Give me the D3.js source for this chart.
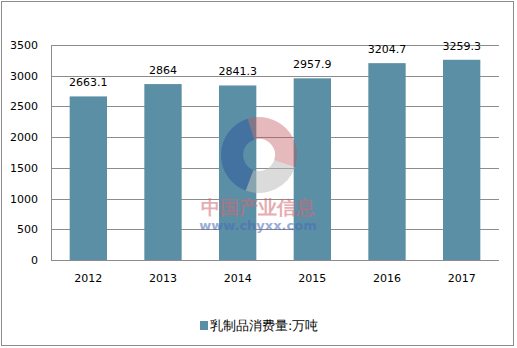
<!DOCTYPE html>
<html>
<head>
<meta charset="utf-8">
<script src="https://cdn.jsdelivr.net/npm/d3@7"></script>
<style>
  body { margin: 0; background: #fff; }
  text { font-family: "DejaVu Sans", sans-serif; }
</style>
</head>
<body>
<div id="chart"></div>
<script>
// data
var years = ["2012", "2013", "2014", "2015", "2016", "2017"];
var consumption = [2663.1, 2864, 2841.3, 2957.9, 3204.7, 3259.3];
var labels = ["2663.1", "2864", "2841.3", "2957.9", "3204.7", "3259.3"];
var yTicks = [0, 500, 1000, 1500, 2000, 2500, 3000, 3500];
var seriesName = "乳制品消费量:万吨";

var W = 517, H = 348;
var margin = {top: 45, right: 18, bottom: 88, left: 51},
    width = W - margin.left - margin.right,
    height = H - margin.top - margin.bottom;

var root = d3.select("#chart")
    .append("svg")
    .attr("width", W)
    .attr("height", H);

// outer frame
root.append("rect")
    .attr("x", 1.5).attr("y", 1.5)
    .attr("width", 512).attr("height", 344)
    .attr("fill", "#fff")
    .attr("stroke", "#8c8c8c")
    .attr("stroke-width", 1);

var svg = root.append("g")
    .attr("transform", "translate(" + margin.left + "," + margin.top + ")");

var xScale = d3.scaleBand()
    .domain(years)
    .range([0, width])
    .paddingInner(0.5)
    .paddingOuter(0.25);

var yScale = d3.scaleLinear()
    .domain([0, 3500])
    .range([height, 0]);

// gridlines
svg.append("g")
    .selectAll("line")
    .data(yTicks)
    .enter()
    .append("line")
    .attr("x1", 0)
    .attr("x2", width)
    .attr("y1", d => Math.round(yScale(d)) + 0.5)
    .attr("y2", d => Math.round(yScale(d)) + 0.5)
    .attr("stroke", "#8c8c8c");

// y axis
var yAxis = svg.append("g")
    .call(d3.axisLeft(yScale).tickValues(yTicks).tickFormat(d3.format("d")).tickSize(0).tickPadding(13));
yAxis.select(".domain").attr("stroke", "#8c8c8c").attr("d", "M0.5," + height + "V0");
yAxis.selectAll("text")
    .attr("font-family", "DejaVu Sans")
    .attr("font-size", 11)
    .attr("fill", "#000");

// x axis labels
var xAxis = svg.append("g")
    .attr("transform", "translate(0," + height + ")")
    .call(d3.axisBottom(xScale).tickSize(0).tickPadding(14));
xAxis.select(".domain").remove();
xAxis.selectAll("text")
    .attr("font-family", "DejaVu Sans")
    .attr("font-size", 11)
    .attr("fill", "#000");

// bars
svg.append("g")
    .selectAll("rect")
    .data(consumption)
    .enter()
    .append("rect")
    .attr("x", (d, i) => xScale(years[i]))
    .attr("y", d => yScale(d))
    .attr("width", xScale.bandwidth())
    .attr("height", d => height - yScale(d))
    .attr("fill", "#5b8fa6");

// value labels
svg.append("g")
    .selectAll("text")
    .data(consumption)
    .enter()
    .append("text")
    .attr("x", (d, i) => xScale(years[i]) + xScale.bandwidth() / 2)
    .attr("y", d => yScale(d) - 10)
    .attr("text-anchor", "middle")
    .attr("font-size", 11)
    .attr("fill", "#000")
    .text((d, i) => labels[i]);

// baseline over the bars
svg.append("line")
    .attr("x1", 0).attr("x2", width)
    .attr("y1", height + 0.5).attr("y2", height + 0.5)
    .attr("stroke", "#8c8c8c");

// watermark
var wm = root.append("g").attr("transform", "translate(259,155)");
var arc = d3.arc().innerRadius(16).outerRadius(38);
wm.append("path")
    .attr("d", arc({startAngle: -0.3, endAngle: 1.9}))
    .attr("fill", "#c0505a").attr("opacity", 0.4);
wm.append("path")
    .attr("d", arc({startAngle: 1.9, endAngle: 3.5}))
    .attr("fill", "#b8b8b8").attr("opacity", 0.5);
wm.append("path")
    .attr("d", arc({startAngle: 3.5, endAngle: 5.98}))
    .attr("fill", "#2f5a9a").attr("opacity", 0.55);
root.append("text")
    .attr("x", 258).attr("y", 214)
    .attr("text-anchor", "middle")
    .attr("font-family", "Noto Sans CJK SC")
    .attr("font-weight", "bold")
    .attr("font-size", 19)
    .attr("fill", "#d06a72").attr("opacity", 0.55)
    .text("中国产业信息");
root.append("text")
    .attr("x", 258).attr("y", 230)
    .attr("text-anchor", "middle")
    .attr("font-family", "Liberation Sans")
    .attr("font-weight", "bold")
    .attr("font-size", 13)
    .attr("fill", "#4a6ab8").attr("opacity", 0.55)
    .text("www.chyxx.com");

// legend
var legend = root.append("g").attr("transform", "translate(200,321)");
legend.append("rect")
    .attr("width", 8).attr("height", 9)
    .attr("fill", "#5b8fa6");
legend.append("text")
    .attr("x", 10).attr("y", 9)
    .attr("font-family", "Noto Sans CJK SC")
    .attr("font-size", 13)
    .attr("fill", "#000")
    .text(seriesName);
</script>
</body>
</html>
